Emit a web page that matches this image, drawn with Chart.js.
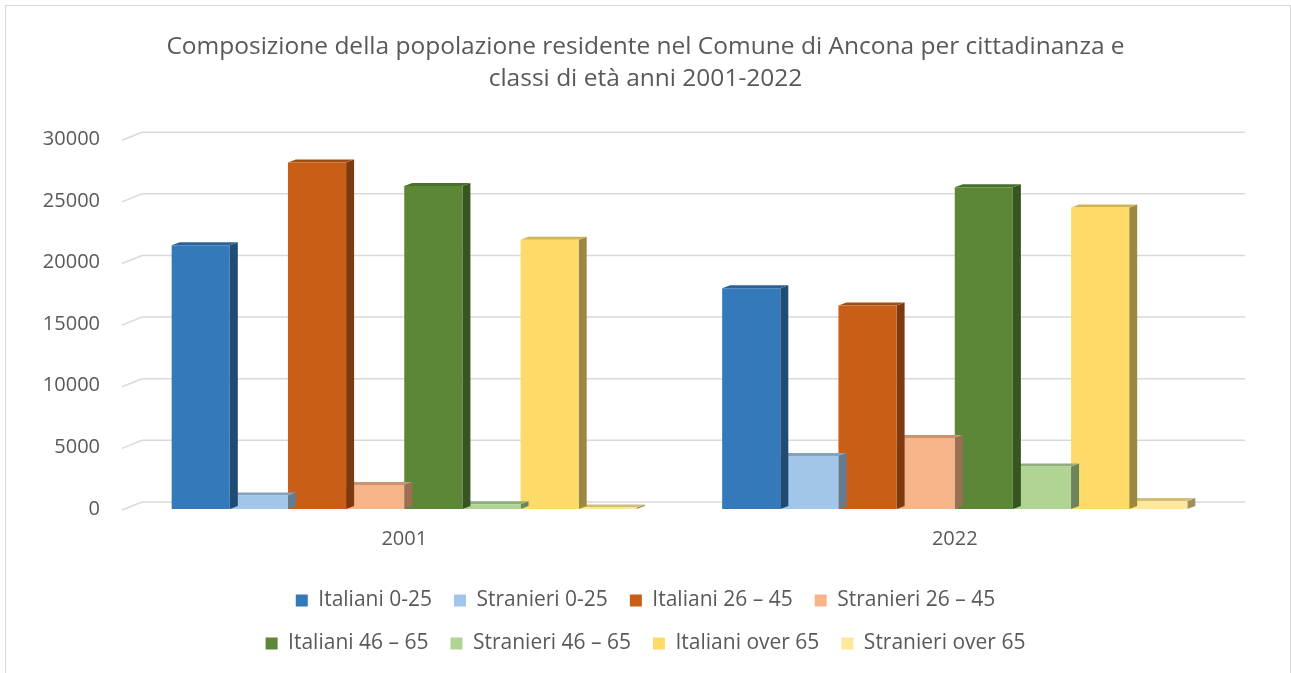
<!DOCTYPE html>
<html>
<head>
<meta charset="utf-8">
<title>Popolazione Ancona</title>
<script src="https://cdn.jsdelivr.net/npm/chart.js@4.4.0/dist/chart.umd.min.js"></script>
<style>
  html, body { margin: 0; padding: 0; background: #ffffff; }
  #wrap { position: relative; width: 1291px; height: 673px; overflow: hidden; }
  #frame { position: absolute; left: 5px; top: 5px; width: 1284px; height: 700px; border: 1px solid #d9d9d9; pointer-events: none; }
</style>
</head>
<body>
<div id="wrap">
  <canvas id="chart"></canvas>
  <div id="frame"></div>
</div>
<script>
// Data
const years = ['2001', '2022'];
const seriesNames = [
  'Italiani 0-25', 'Stranieri 0-25', 'Italiani 26 – 45', 'Stranieri 26 – 45',
  'Italiani 46 – 65', 'Stranieri 46 – 65', 'Italiani over 65', 'Stranieri over 65'
];
const italiani0_25 = [21400, 17900];
const stranieri0_25 = [1100, 4300];
const italiani26_45 = [28100, 16500];
const stranieri26_45 = [1950, 5750];
const italiani46_65 = [26200, 26100];
const stranieri46_65 = [380, 3450];
const italianiOver65 = [21850, 24450];
const stranieriOver65 = [120, 650];
const yTicks = [0, 5000, 10000, 15000, 20000, 25000, 30000];

const seriesValues = [
  italiani0_25, stranieri0_25, italiani26_45, stranieri26_45,
  italiani46_65, stranieri46_65, italianiOver65, stranieriOver65
];
const seriesColors = [
  '#3479BA', '#A1C6EA', '#C85E17', '#F8B489',
  '#5B8736', '#AFD493', '#FEDB69', '#FFE899'
];

const TEXT = '#595959';
const GRID = '#d9d9d9';
const DEPTH_X = 8, DEPTH_Y = 3;     // bar depth
const WALL_X = 20, WALL_Y = 8;      // back wall offset for gridlines
const LEGEND_W = 840;

Chart.defaults.font.family = "'Open Sans', sans-serif";
Chart.defaults.color = TEXT;

// darken a hex colour
function shade(hex, f) {
  const n = parseInt(hex.slice(1), 16);
  const r = Math.round(((n >> 16) & 255) * f);
  const g = Math.round(((n >> 8) & 255) * f);
  const b = Math.round((n & 255) * f);
  return `rgb(${r}, ${g}, ${b})`;
}

// gridlines on the back wall + side/top faces of the bars
const pseudo3d = {
  id: 'pseudo3d',
  beforeDatasetsDraw(chart) {
    const { ctx, chartArea } = chart;
    const y = chart.scales.y;
    ctx.save();
    ctx.strokeStyle = GRID;
    ctx.lineWidth = 1.5;
    y.ticks.forEach(t => {
      const py = y.getPixelForValue(t.value);
      ctx.beginPath();
      ctx.moveTo(chartArea.left - 7, py + 1);
      ctx.lineTo(chartArea.left - 7 + WALL_X, py + 1 - WALL_Y);
      ctx.lineTo(chartArea.right + 15, py + 1 - WALL_Y);
      ctx.stroke();
    });
    ctx.restore();
  },
  beforeDatasetDraw(chart, args) {
    const ctx = chart.ctx;
    const col = seriesColors[args.index];
    args.meta.data.forEach(bar => {
      const { x, y, base, width } = bar.getProps(['x', 'y', 'base', 'width'], true);
      const l = x - width / 2, r = x + width / 2;
      ctx.save();
      ctx.fillStyle = shade(col, 0.62);
      ctx.beginPath();
      ctx.moveTo(r, y);
      ctx.lineTo(r + DEPTH_X, y - DEPTH_Y);
      ctx.lineTo(r + DEPTH_X, base - DEPTH_Y);
      ctx.lineTo(r, base);
      ctx.closePath();
      ctx.fill();
      ctx.fillStyle = shade(col, 0.82);
      ctx.beginPath();
      ctx.moveTo(l, y);
      ctx.lineTo(l + DEPTH_X, y - DEPTH_Y);
      ctx.lineTo(r + DEPTH_X, y - DEPTH_Y);
      ctx.lineTo(r, y);
      ctx.closePath();
      ctx.fill();
      ctx.restore();
    });
  },
  // legend in rows of four, centred
  afterLayout(chart) {
    const lg = chart.legend;
    if (!lg) return;
    const { top, bottom } = lg;
    const cx = (lg.left + lg.right) / 2;
    lg.update(LEGEND_W, bottom - top, lg._margins || { left: 0, right: 0, top: 0, bottom: 0 });
    lg.left = cx - LEGEND_W / 2;
    lg.right = cx + LEGEND_W / 2;
    lg.width = LEGEND_W;
    lg.top = top;
    lg.bottom = bottom;
    lg.height = bottom - top;
  }
};

new Chart(document.getElementById('chart'), {
  type: 'bar',
  data: {
    labels: years,
    datasets: seriesNames.map((name, i) => ({
      label: name,
      data: seriesValues[i],
      backgroundColor: seriesColors[i],
      borderWidth: 0,
      categoryPercentage: 0.845,
      barPercentage: 1
    }))
  },
  options: {
    responsive: true,
    maintainAspectRatio: false,
    animation: false,
    layout: { padding: { left: 20, right: 20, top: 0, bottom: 9 } },
    plugins: {
      title: {
        display: true,
        text: [
          'Composizione della popolazione residente nel Comune di Ancona per cittadinanza e',
          'classi di età anni 2001-2022'
        ],
        color: TEXT,
        font: { size: 24.5, weight: 'normal', lineHeight: 1.31 },
        padding: { top: 31, bottom: 44 }
      },
      legend: {
        position: 'bottom',
        labels: {
          boxWidth: 12,
          boxHeight: 12,
          padding: 22,
          color: TEXT,
          font: { size: 21 }
        }
      },
      tooltip: { enabled: false }
    },
    scales: {
      x: {
        grid: { display: false, drawTicks: false },
        border: { display: false },
        ticks: { padding: 18, font: { size: 20 }, color: TEXT },
        afterFit: scale => { scale.height = 59; }
      },
      y: {
        min: 0,
        max: 30000,
        grid: { display: false, drawTicks: false },
        border: { display: false },
        afterBuildTicks: scale => { scale.ticks = yTicks.map(v => ({ value: v })); },
        ticks: {
          padding: 29,
          font: { size: 20 },
          color: TEXT,
          callback: v => String(v)
        },
        afterFit: scale => { scale.width = 109; }
      },
      // empty right-hand margin so the plot stays where the reference has it
      yRight: {
        type: 'linear',
        position: 'right',
        grid: { display: false, drawTicks: false },
        border: { display: false },
        ticks: { display: false },
        afterFit: scale => { scale.width = 41; }
      }
    }
  },
  plugins: [pseudo3d]
});
</script>
</body>
</html>
